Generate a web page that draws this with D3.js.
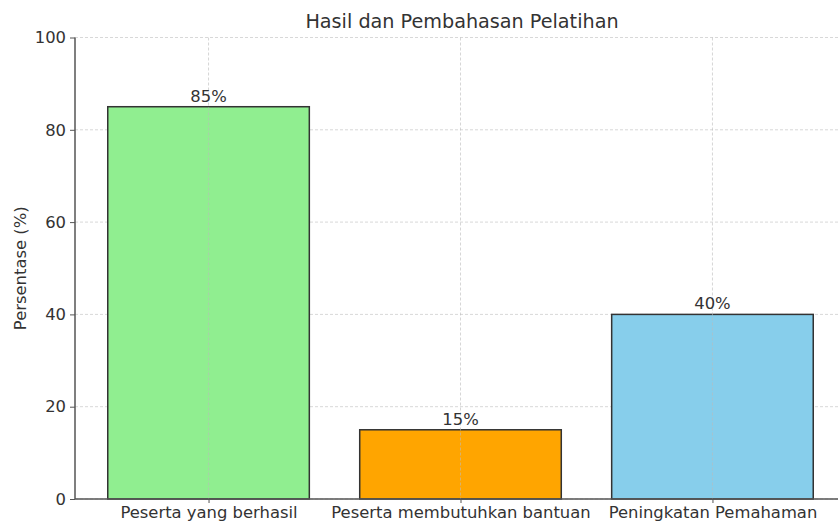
<!DOCTYPE html>
<html>
<head>
<meta charset="utf-8">
<script src="https://cdn.jsdelivr.net/npm/d3@7"></script>
<style>
  body { margin: 0; background: #fff; }
  svg { display: block; font-family: "DejaVu Sans", sans-serif; }
</style>
</head>
<body>
<svg width="838" height="522"></svg>
<script>
// Data
const categories = ["Peserta yang berhasil", "Peserta membutuhkan bantuan", "Peningkatan Pemahaman"];
const values = [85, 15, 40];
const barColors = ["#90ee90", "#ffa500", "#87ceeb"];
const yTicks = [0, 20, 40, 60, 80, 100];

const svg = d3.select("svg");
const textColor = "#333";
const fontSize = "16.4px";

// Plot area
const plotLeft = 75, plotRight = 846, plotTop = 37.5, plotBottom = 499;

const x = d3.scaleLinear()
    .domain([-0.53, categories.length - 0.47])
    .range([plotLeft, plotRight]);

const y = d3.scaleLinear()
    .domain([0, 100])
    .range([plotBottom, plotTop]);

const barWidth = 0.8;

// ======= GRID (horizontal, behind bars) =======
svg.append("g").selectAll("line")
    .data(yTicks)
    .enter()
    .append("line")
    .attr("x1", plotLeft)
    .attr("x2", 838)
    .attr("y1", d => y(d))
    .attr("y2", d => y(d))
    .attr("stroke", "#d8d8d8")
    .attr("stroke-width", 1)
    .attr("stroke-dasharray", "3,2");

// ======= BARS =======
svg.append("g").selectAll("rect")
    .data(values)
    .enter()
    .append("rect")
    .attr("x", (d, i) => x(i - barWidth / 2))
    .attr("y", d => y(d))
    .attr("width", x(barWidth) - x(0))
    .attr("height", d => y(0) - y(d))
    .attr("fill", (d, i) => barColors[i])
    .attr("stroke", "#333")
    .attr("stroke-width", 1.5);

// vertical grid drawn over bars like the reference
svg.append("g").selectAll("line")
    .data(categories)
    .enter()
    .append("line")
    .attr("x1", (d, i) => x(i))
    .attr("x2", (d, i) => x(i))
    .attr("y1", plotTop)
    .attr("y2", plotBottom)
    .attr("stroke", "#bbb")
    .attr("stroke-opacity", 0.6)
    .attr("stroke-width", 1)
    .attr("stroke-dasharray", "3,2");

// Value labels
svg.append("g").selectAll("text")
    .data(values)
    .enter()
    .append("text")
    .attr("x", (d, i) => x(i))
    .attr("y", d => y(d) - 5)
    .attr("text-anchor", "middle")
    .attr("font-size", fontSize)
    .attr("fill", textColor)
    .text(d => `${d}%`);

// ======= AXES =======
const yAxis = svg.append("g")
    .attr("transform", `translate(${plotLeft},0)`)
    .call(d3.axisLeft(y).tickValues(yTicks).tickSize(5).tickPadding(4));

const xAxis = svg.append("g")
    .attr("transform", `translate(0,${plotBottom})`)
    .call(d3.axisBottom(x)
        .tickValues(d3.range(categories.length))
        .tickFormat(i => categories[i])
        .tickSize(4)
        .tickPadding(3));

[xAxis, yAxis].forEach(g => {
    g.select(".domain").attr("stroke", "#555").attr("stroke-width", 1.5);
    g.selectAll(".tick line").attr("stroke", "#555");
    g.selectAll(".tick text")
        .attr("font-size", fontSize)
        .attr("font-family", "DejaVu Sans, sans-serif")
        .attr("fill", textColor);
});

// drop the outer ticks on the domain path ends
yAxis.select(".domain").attr("d", `M0,${plotBottom}V${plotTop}`);
xAxis.select(".domain").attr("d", `M${plotLeft},0H838`);

// Title
svg.append("text")
    .attr("x", (plotLeft + 849) / 2)
    .attr("y", 28)
    .attr("text-anchor", "middle")
    .attr("font-size", "19.2px")
    .attr("fill", textColor)
    .text("Hasil dan Pembahasan Pelatihan");

// Y label
svg.append("text")
    .attr("transform", `translate(26,${(plotTop + plotBottom) / 2}) rotate(-90)`)
    .attr("text-anchor", "middle")
    .attr("font-size", fontSize)
    .attr("fill", textColor)
    .text("Persentase (%)");
</script>
</body>
</html>
